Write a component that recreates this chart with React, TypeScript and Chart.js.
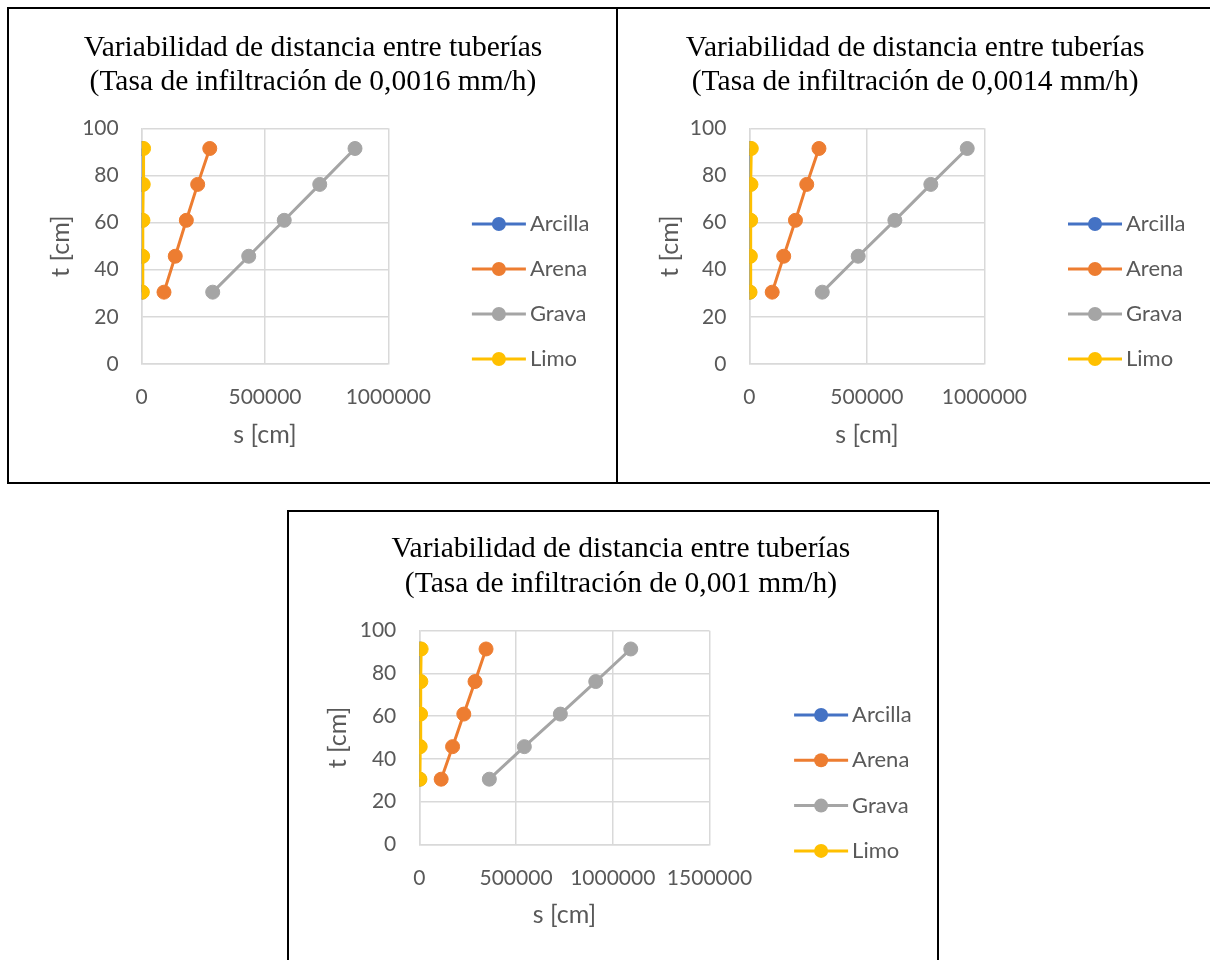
import React, { useEffect, useRef } from "react";
import { Chart, registerables } from "chart.js";

Chart.register(...registerables);

// ---------- data ----------
const depthT = [30.48, 45.72, 60.96, 76.2, 91.44]; // t [cm]
const seriesNames = ["Arcilla", "Arena", "Grava", "Limo"];
const seriesColors = ["#4472C4", "#ED7D31", "#A5A5A5", "#FFC000"];

// Tasa 0,0016 mm/h  (s [cm])
const arcilla16 = [290, 440, 590, 730, 880];
const arena16 = [90400, 136000, 181000, 227000, 276000];
const grava16 = [288000, 434000, 578000, 722000, 865000];
const limo16 = [2600, 3800, 5100, 6300, 7600];

// Tasa 0,0014 mm/h
const arcilla14 = [310, 470, 630, 780, 940];
const arena14 = [97000, 146000, 196000, 244000, 296000];
const grava14 = [310000, 463000, 619000, 772000, 927000];
const limo14 = [2800, 4100, 5500, 6700, 8100];

// Tasa 0,001 mm/h
const arcilla10 = [370, 560, 750, 920, 1110];
const arena10 = [113000, 172000, 230000, 288000, 345000];
const grava10 = [362000, 543000, 729000, 912000, 1093000];
const limo10 = [3300, 4800, 6500, 8000, 9600];

const titleLine1 = "Variabilidad de distancia entre tuberías";
const titleLine2_16 = "(Tasa de infiltración de 0,0016 mm/h)";
const titleLine2_14 = "(Tasa de infiltración de 0,0014 mm/h)";
const titleLine2_10 = "(Tasa de infiltración de 0,001 mm/h)";

const xAxisTitle = "s [cm]";
const yAxisTitle = "t [cm]";
const yMax = 100;
const yStep = 20;
const xStep = 500000;
const xMax16 = 1000000;
const xMax14 = 1000000;
const xMax10 = 1500000;

// ---------- layout (positions only) ----------
type Panel = {
  left: number; top: number; width: number; height: number;
  xMax: number; series: number[][]; title: string[];
  area: { left: number; right: number; top: number; bottom: number };
  yTitlePad: number; xTitlePad: number;
  titleCx: number; titleBase: number[];
  legendDx: number; legendDy: number; legendGap: number;
};

const panels: Panel[] = [
  {
    left: 7, top: 7, width: 611, height: 477,
    xMax: xMax16, series: [arcilla16, arena16, grava16, limo16],
    title: [titleLine1, titleLine2_16],
    area: { left: 132.7, right: 379.3, top: 119.3, bottom: 355 },
    yTitlePad: 37, xTitlePad: 32,
    titleCx: 304, titleBase: [47, 80.5],
    legendDx: 83.6, legendDy: 95.7, legendGap: 45,
  },
  {
    left: 616, top: 7, width: 600, height: 477,
    xMax: xMax14, series: [arcilla14, arena14, grava14, limo14],
    title: [titleLine1, titleLine2_14],
    area: { left: 131.4, right: 366.4, top: 119.3, bottom: 355 },
    yTitlePad: 37, xTitlePad: 32,
    titleCx: 297.2, titleBase: [47, 80.5],
    legendDx: 83.6, legendDy: 95.7, legendGap: 45,
  },
  {
    left: 287, top: 510, width: 652, height: 470,
    xMax: xMax10, series: [arcilla10, arena10, grava10, limo10],
    title: [titleLine1, titleLine2_10],
    area: { left: 130.3, right: 420.5, top: 118.7, bottom: 332.3 },
    yTitlePad: 33.7, xTitlePad: 48,
    titleCx: 331.9, titleBase: [45.3, 79.7],
    legendDx: 84.6, legendDy: 84.3, legendGap: 45.3,
  },
];

const BORDER = 2;
const SANS = "Lato, 'Noto Sans', sans-serif";
const TICK_FONT = { family: SANS, size: 21 };
const AXIS_TITLE_FONT = { family: SANS, size: 25 };
const GRID = "#D9D9D9";
const TEXT = "#595959";

const overlayPlugin = {
  id: "overlay",
  afterDraw(chart: any, _args: any, opts: any) {
    const ctx = chart.ctx;
    const a = chart.chartArea;
    ctx.save();
    ctx.fillStyle = "#000";
    ctx.font = "29.5px 'Liberation Serif', 'Times New Roman', serif";
    ctx.textAlign = "center";
    ctx.textBaseline = "alphabetic";
    (opts.title as string[]).forEach((t, i) => ctx.fillText(t, opts.titleCx, opts.titleBase[i]));
    chart.data.datasets.forEach((ds: any, i: number) => {
      const y = a.top + opts.legendDy + i * opts.legendGap;
      const x0 = a.right + opts.legendDx;
      ctx.strokeStyle = ds.borderColor;
      ctx.lineWidth = 3;
      ctx.beginPath();
      ctx.moveTo(x0, y);
      ctx.lineTo(x0 + 54, y);
      ctx.stroke();
      ctx.fillStyle = ds.borderColor;
      ctx.beginPath();
      ctx.arc(x0 + 27, y, 7, 0, Math.PI * 2);
      ctx.fill();
      ctx.fillStyle = TEXT;
      ctx.font = `22px ${SANS}`;
      ctx.textAlign = "left";
      ctx.textBaseline = "middle";
      ctx.fillText(ds.label, x0 + 58, y);
    });
    ctx.restore();
  },
};

function ChartPanel({ p }: { p: Panel }) {
  const ref = useRef<HTMLCanvasElement | null>(null);
  const W = p.width - 2 * BORDER;
  const H = p.height - 2 * BORDER;
  useEffect(() => {
    if (!ref.current) return;
    const datasets = seriesNames.map((name, i) => ({
      label: name,
      data: depthT.map((t, k) => ({ x: p.series[i][k], y: t })),
      borderColor: seriesColors[i],
      backgroundColor: seriesColors[i],
      pointBackgroundColor: seriesColors[i],
      pointBorderColor: seriesColors[i],
      pointBorderWidth: 1,
      pointRadius: 7,
      borderWidth: 3,
      showLine: true,
      order: i === 0 ? 1 : 0,
    }));
    const chart = new Chart(ref.current, {
      type: "scatter",
      data: { datasets },
      plugins: [overlayPlugin],
      options: {
        responsive: false,
        animation: false,
        devicePixelRatio: 1,
        layout: {
          padding: {
            left: 0,
            right: W - p.area.right,
            top: p.area.top,
            bottom: 0,
          },
        },
        plugins: {
          legend: { display: false },
          title: { display: false },
          tooltip: { enabled: false },
          overlay: p as any,
        } as any,
        scales: {
          x: {
            type: "linear",
            min: 0,
            max: p.xMax,
            afterFit: (s: any) => { s.height = H - p.area.bottom; },
            ticks: {
              stepSize: xStep,
              autoSkip: false,
              maxRotation: 0,
              padding: 21,
              color: TEXT,
              font: TICK_FONT,
              callback: (v: any) => String(v),
            },
            grid: { color: GRID, lineWidth: 1.5, drawTicks: false },
            border: { color: GRID, width: 1.5 },
            title: {
              display: true,
              text: xAxisTitle,
              color: TEXT,
              font: AXIS_TITLE_FONT,
              padding: { top: 0, bottom: p.xTitlePad },
            },
          },
          y: {
            type: "linear",
            min: 0,
            max: yMax,
            afterFit: (s: any) => { s.width = p.area.left; },
            ticks: {
              stepSize: yStep,
              autoSkip: false,
              padding: 23,
              color: TEXT,
              font: TICK_FONT,
            },
            grid: { color: GRID, lineWidth: 1.5, drawTicks: false },
            border: { color: GRID, width: 1.5 },
            title: {
              display: true,
              text: yAxisTitle,
              color: TEXT,
              font: AXIS_TITLE_FONT,
              padding: { top: p.yTitlePad, bottom: 0 },
            },
          },
        },
      } as any,
    });
    return () => chart.destroy();
  }, []);
  return (
    <div
      style={{
        position: "absolute",
        left: p.left,
        top: p.top,
        width: p.width,
        height: p.height,
        border: `${BORDER}px solid #000`,
        boxSizing: "border-box",
        background: "#fff",
      }}
    >
      <canvas ref={ref} width={W} height={H} style={{ display: "block", width: W, height: H }} />
    </div>
  );
}

export default function App() {
  return (
    <div
      style={{
        position: "absolute",
        left: 0,
        top: 0,
        width: 1210,
        height: 960,
        overflow: "hidden",
        background: "#fff",
      }}
    >
      {panels.map((p, i) => (
        <ChartPanel key={i} p={p} />
      ))}
    </div>
  );
}
